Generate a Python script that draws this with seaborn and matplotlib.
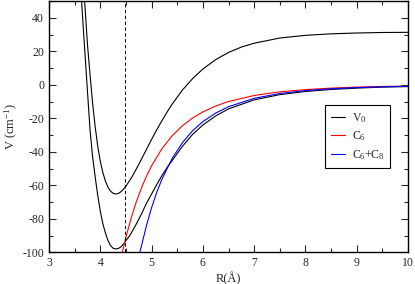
import matplotlib
matplotlib.use('Agg')

import matplotlib.pyplot as plt
import seaborn as sns
import pandas as pd

# ------------------------------------------------------------
# 数据（从图中读取的势能曲线）
# ------------------------------------------------------------
# 上方黑色曲线
r_upper = [3.69, 3.75, 3.80, 3.85, 3.90, 3.95, 4.00, 4.05, 4.10, 4.15,
           4.20, 4.25, 4.30, 4.35, 4.40, 4.45, 4.50, 4.60, 4.70, 4.80,
           4.90, 5.00, 5.10, 5.20, 5.30, 5.40, 5.60, 5.80, 6.00, 6.25,
           6.50, 6.75, 7.00, 7.50, 8.00, 8.50, 9.00, 9.50, 10.0]
v_upper = [52.0, 24.0, 6.0, -11.0, -25.0, -36.7, -45.6, -52.4, -57.5, -61.2,
           -63.5, -64.8, -65.2, -64.9, -63.9, -62.4, -60.5, -55.9, -50.4, -44.6,
           -38.6, -32.6, -26.9, -21.5, -16.4, -11.6, -3.2, 3.7, 9.4, 15.0,
           19.3, 22.5, 24.8, 27.9, 29.5, 30.4, 30.9, 31.2, 31.3]

# 下方黑色曲线 V0
r_v0 = [3.63, 3.70, 3.75, 3.80, 3.85, 3.90, 3.95, 4.00, 4.05, 4.10,
        4.15, 4.20, 4.25, 4.30, 4.35, 4.40, 4.45, 4.50, 4.55, 4.60,
        4.70, 4.80, 4.90, 5.00, 5.10, 5.20, 5.30, 5.40, 5.60, 5.80,
        6.00, 6.25, 6.50, 7.00, 7.50, 8.00, 8.50, 9.00, 9.50, 10.0]
v_v0 = [52.0, 19.0, -4.0, -27.0, -43.0, -55.0, -66.0, -75.5, -83.0, -88.5,
        -93.0, -96.0, -97.6, -98.0, -97.7, -96.8, -95.2, -93.0, -91.0, -88.7,
        -83.2, -77.3, -70.8, -65.2, -59.6, -54.3, -49.5, -45.3, -36.8, -29.6,
        -24.0, -18.6, -14.4, -9.0, -5.9, -4.0, -2.8, -2.0, -1.4, -1.1]

# 红色曲线 C6
r_c6 = [4.43, 4.50, 4.60, 4.70, 4.80, 4.90, 5.00, 5.20, 5.40, 5.60,
        5.80, 6.00, 6.25, 6.50, 7.00, 7.50, 8.00, 8.50, 9.00, 9.50, 10.0]
v_c6 = [-100.0, -91.0, -79.7, -70.1, -61.8, -54.6, -48.4, -38.2, -30.5, -24.5,
        -19.8, -16.2, -12.7, -10.0, -6.4, -4.2, -2.9, -2.0, -1.4, -1.0, -0.8]

# 蓝色曲线 C6+C8
r_c68 = [4.77, 4.80, 4.90, 5.00, 5.10, 5.20, 5.40, 5.60, 5.80, 6.00,
         6.25, 6.50, 7.00, 7.50, 8.00, 8.50, 9.00, 9.50, 10.0]
v_c68 = [-100.0, -96.5, -84.0, -73.4, -64.2, -56.5, -44.0, -34.6, -27.4, -22.0,
         -16.9, -13.1, -8.1, -5.2, -3.5, -2.4, -1.7, -1.2, -0.9]

r_dashed = 4.49  # 竖直虚线位置

# ------------------------------------------------------------
# 样式
# ------------------------------------------------------------
sns.set_style('ticks')
plt.rcParams['font.family'] = ['Liberation Serif', 'DejaVu Serif']
plt.rcParams['mathtext.fontset'] = 'custom'
plt.rcParams['mathtext.rm'] = 'Liberation Serif'
plt.rcParams['axes.unicode_minus'] = False
plt.rcParams['xtick.direction'] = 'in'
plt.rcParams['ytick.direction'] = 'in'

fig = plt.figure(figsize=(4.15, 2.84), dpi=100)
ax = fig.add_axes([0.1181, 0.1116, 0.8651, 0.8849])

df_up = pd.DataFrame({'R': r_upper, 'V': v_upper})
df_v0 = pd.DataFrame({'R': r_v0, 'V': v_v0})
df_c6 = pd.DataFrame({'R': r_c6, 'V': v_c6})
df_c68 = pd.DataFrame({'R': r_c68, 'V': v_c68})

lw = 0.8
sns.lineplot(data=df_up, x='R', y='V', ax=ax, color='black', lw=lw,
             estimator=None, sort=False)
sns.lineplot(data=df_v0, x='R', y='V', ax=ax, color='black', lw=lw,
             estimator=None, sort=False, label=r'V$\mathregular{_0}$')
sns.lineplot(data=df_c6, x='R', y='V', ax=ax, color='red', lw=lw,
             estimator=None, sort=False, label=r'C$\mathregular{_6}$')
sns.lineplot(data=df_c68, x='R', y='V', ax=ax, color='blue', lw=lw,
             estimator=None, sort=False,
             label=r'C$\mathregular{_6}$+C$\mathregular{_8}$')

ax.axvline(r_dashed, color='black', lw=0.7, ls=(0, (3.5, 2.5)))

ax.set_xlim(3, 10)
ax.set_ylim(-100, 50)
ax.set_xticks(range(3, 11))
ax.set_yticks(range(-100, 41, 20))
ax.set_xticks([3.5 + i for i in range(7)], minor=True)
ax.set_yticks(range(-90, 51, 20), minor=True)

ax.tick_params(which='major', length=5, width=0.8, labelsize=8.5,
               top=True, right=True, pad=3.5)
ax.tick_params(which='minor', length=3, width=0.8, top=True, right=True)
for sp in ax.spines.values():
    sp.set_linewidth(1.0)
    sp.set_color('black')

ax.set_xlabel('R(Å)', fontsize=9, labelpad=2)
ax.set_ylabel(r'V (cm$\mathregular{^{-1}}$)', fontsize=9, labelpad=1.5)

leg = ax.legend(loc='upper left', bbox_to_anchor=(0.769, 0.586),
                fontsize=8.5, frameon=True, fancybox=False, framealpha=1,
                edgecolor='black', handlelength=1.2, handletextpad=0.55,
                labelspacing=0.4, borderpad=0.5, borderaxespad=0)
leg.get_frame().set_linewidth(0.8)

fig.savefig('out.png', dpi=100)
